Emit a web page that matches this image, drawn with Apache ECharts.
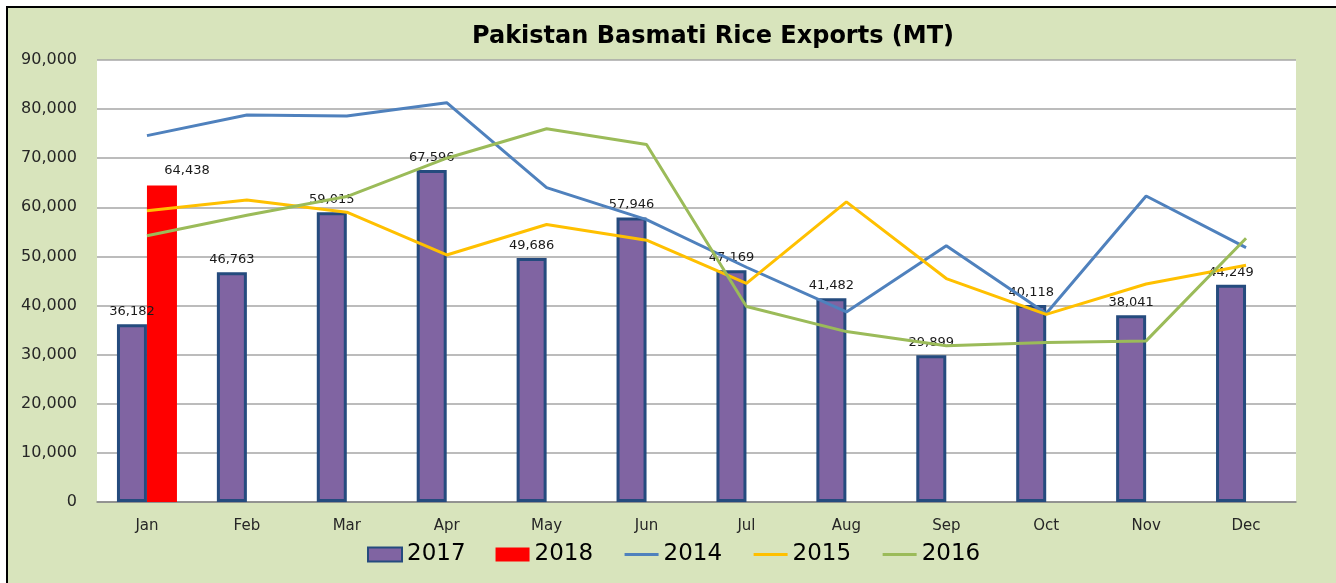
<!DOCTYPE html>
<html>
<head>
<meta charset="utf-8">
<title>Pakistan Basmati Rice Exports</title>
<script src="https://cdn.jsdelivr.net/npm/echarts@6/dist/echarts.min.js"></script>
<style>
  html, body { margin: 0; padding: 0; background: #fff; }
  #chart { width: 1336px; height: 583px; }
</style>
</head>
<body>
<div id="chart"></div>
<script>
// months on the x axis
var months = ['Jan', 'Feb', 'Mar', 'Apr', 'May', 'Jun', 'Jul', 'Aug', 'Sep', 'Oct', 'Nov', 'Dec']
// bars
var exp2017 = [36182, 46763, 59015, 67596, 49686, 57946, 47169, 41482, 29899, 40118, 38041, 44249]
var exp2018 = [64438, null, null, null, null, null, null, null, null, null, null, null]
// lines
var exp2014 = [74600, 78800, 78600, 81300, 64000, 57500, 47800, 38700, 52200, 38400, 62300, 51800]
var exp2015 = [59300, 61500, 59000, 50300, 56500, 53300, 44500, 61100, 45500, 38200, 44400, 48200]
var exp2016 = [54200, 58400, 62200, 70000, 76000, 72800, 39800, 34700, 31800, 32500, 32800, 53700]

var font = 'DejaVu Sans'

function fmt (v) {
  return v.toLocaleString('en-US')
}

function lineSeries (name, data, color) {
  return {
    name: name,
    type: 'line',
    data: data,
    symbol: 'none',
    lineStyle: { color: color, width: 3 },
    // no markers, also keeps the legend icon a plain line
    itemStyle: { color: color, opacity: 0 },
    z: 3
  }
}

var myChart = echarts.init(document.getElementById('chart'))
var option = {
  animation: false,
  backgroundColor: '#fff',
  graphic: [{
    type: 'rect',
    shape: { x: 7, y: 7, width: 1345, height: 600 },
    style: { fill: '#D8E4BC', stroke: '#000', lineWidth: 2 },
    z: -10
  }],
  title: {
    text: 'Pakistan Basmati Rice Exports (MT)',
    left: 472,
    top: 25,
    padding: 0,
    textStyle: { fontFamily: font, fontWeight: 'bold', fontSize: 24, color: '#000' }
  },
  legend: {
    left: 367,
    top: 543,
    itemWidth: 34,
    itemHeight: 14,
    itemGap: 30,
    padding: 0,
    lineStyle: { width: 3 },
    textStyle: { fontFamily: font, fontSize: 23, color: '#000' },
    data: [
      { name: '2017', icon: 'rect' },
      { name: '2018', icon: 'rect' },
      '2014', '2015', '2016'
    ]
  },
  grid: {
    left: 97,
    right: 40,
    top: 60,
    bottom: 81,
    show: true,
    backgroundColor: '#fff',
    borderWidth: 0
  },
  xAxis: {
    type: 'category',
    data: months,
    axisLine: { lineStyle: { color: '#868686', width: 1.5 } },
    axisTick: { show: false },
    axisLabel: { fontFamily: font, fontSize: 15, color: '#262626', margin: 17 }
  },
  yAxis: {
    type: 'value',
    min: 0,
    max: 90000,
    interval: 10000,
    axisLine: { show: false },
    axisTick: { show: false },
    splitLine: { lineStyle: { color: '#a6a6a6', width: 1.5 } },
    axisLabel: { fontFamily: font, fontSize: 16, color: '#262626', margin: 20, formatter: fmt }
  },
  series: [{
    name: '2017',
    type: 'bar',
    data: exp2017,
    barWidth: 30,
    barGap: 0,
    itemStyle: { color: '#8064A2', borderColor: '#254B7E', borderWidth: 3 },
    label: {
      show: true,
      position: 'top',
      distance: 6,
      fontFamily: font,
      fontSize: 13,
      color: '#1a1a1a',
      formatter: function (p) { return fmt(p.value) }
    }
  }, {
    name: '2018',
    type: 'bar',
    data: exp2018,
    barWidth: 30,
    itemStyle: { color: '#FF0000' },
    label: {
      show: true,
      position: 'top',
      distance: 8,
      offset: [25, 0],
      fontFamily: font,
      fontSize: 13,
      color: '#1a1a1a',
      formatter: function (p) { return fmt(p.value) }
    }
  },
  lineSeries('2014', exp2014, '#4F81BD'),
  lineSeries('2015', exp2015, '#FFC000'),
  lineSeries('2016', exp2016, '#9BBB59')
  ]
}
myChart.setOption(option)
</script>
</body>
</html>
